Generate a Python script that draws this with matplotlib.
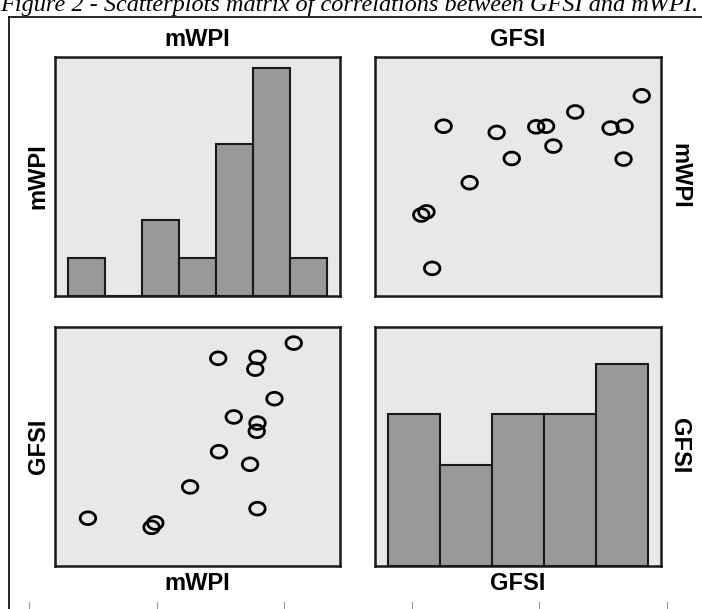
import numpy as np
import matplotlib
matplotlib.use("Agg")
import matplotlib.pyplot as plt
from matplotlib.lines import Line2D
from matplotlib.path import Path

mwpi = [70.5, 60.3, 65.6, 65.3, 67.9, 62.4, 65.6, 65.5, 60.4, 64.6, 56.5, 65.6, 42.7, 51.8, 51.3]
gfsi = [88.8, 85.3, 85.5, 82.8, 76.0, 71.8, 70.4, 68.5, 63.8, 60.9, 55.7, 50.7, 48.5, 47.4, 46.4]
mwpi_bins = np.arange(40, 76, 5)   # 7 bins
gfsi_bins = np.arange(40, 91, 10)  # 5 bins
names = ["mWPI", "GFSI"]
caption = "Figure 2 - Scatterplots matrix of correlations between GFSI and mWPI."

panel_bg = "#e8e8e8"
bar_col = "#999999"
edge = "#1a1a1a"
lab_font = dict(family="Liberation Sans", weight="bold", size=17)

# slightly flattened open circle, like the scanned markers
t = np.linspace(0, 2 * np.pi, 60)
oval = Path(np.column_stack([np.cos(t), 0.82 * np.sin(t)]), closed=True)

fig = plt.figure(figsize=(7.02, 6.09), dpi=100)
W, H = 702, 609

def px_axes(x0, y0, x1, y1):
    return fig.add_axes([x0 / W, 1 - y1 / H, (x1 - x0) / W, (y1 - y0) / H])

def lims(edges):
    lo, hi = edges[0], edges[-1]
    pad = (hi - lo) * 0.05
    return lo - pad, hi + pad

def style(ax):
    ax.set_facecolor(panel_bg)
    ax.set_xticks([])
    ax.set_yticks([])
    for s in ax.spines.values():
        s.set_color(edge)
        s.set_linewidth(1.8)

ax_tl = px_axes(55, 57, 340, 296)
ax_tr = px_axes(375, 57, 661, 296)
ax_bl = px_axes(55, 327, 340, 566)
ax_br = px_axes(375, 327, 661, 566)

# histogram of mWPI
ax_tl.hist(mwpi, bins=mwpi_bins, color=bar_col, edgecolor=edge, linewidth=1.5)
ax_tl.set_xlim(*lims(mwpi_bins))
ax_tl.set_ylim(0, 6.3)

# histogram of GFSI
ax_br.hist(gfsi, bins=gfsi_bins, color=bar_col, edgecolor=edge, linewidth=1.5)
ax_br.set_xlim(*lims(gfsi_bins))
ax_br.set_ylim(0, 4.73)

# scatter GFSI (x) vs mWPI (y)
ax_tr.scatter(gfsi, mwpi, s=125, marker=oval, facecolors="none", edgecolors="black", linewidths=2)
ax_tr.set_xlim(*lims(gfsi_bins))
ax_tr.set_ylim(*lims(mwpi_bins))

# scatter mWPI (x) vs GFSI (y)
ax_bl.scatter(mwpi, gfsi, s=125, marker=oval, facecolors="none", edgecolors="black", linewidths=2)
ax_bl.set_xlim(*lims(mwpi_bins))
ax_bl.set_ylim(*lims(gfsi_bins))

for ax in (ax_tl, ax_tr, ax_bl, ax_br):
    style(ax)

# variable labels around the matrix
fig.text(197 / W, 1 - 40 / H, names[0], ha="center", va="center", **lab_font)
fig.text(518 / W, 1 - 40 / H, names[1], ha="center", va="center", **lab_font)
fig.text(197 / W, 1 - 583 / H, names[0], ha="center", va="center", **lab_font)
fig.text(518 / W, 1 - 583 / H, names[1], ha="center", va="center", **lab_font)
fig.text(38 / W, 1 - 176 / H, names[0], ha="center", va="center", rotation=90, **lab_font)
fig.text(38 / W, 1 - 446 / H, names[1], ha="center", va="center", rotation=90, **lab_font)
fig.text(680 / W, 1 - 176 / H, names[0], ha="center", va="center", rotation=270, **lab_font)
fig.text(680 / W, 1 - 446 / H, names[1], ha="center", va="center", rotation=270, **lab_font)

# caption at the top edge, as in the scanned page
fig.text(0 / W, 1 - 11 / H, caption, ha="left", va="baseline",
         family="Liberation Serif", style="italic", size=17.5)

# frame lines of the surrounding table
fig.add_artist(Line2D([9 / W, 1], [1 - 17 / H, 1 - 17 / H], color="black", lw=1.2))
fig.add_artist(Line2D([9 / W, 9 / W], [0, 1 - 17 / H], color="black", lw=1.2))
for tx in [29, 157, 284, 412, 539, 667]:
    fig.add_artist(Line2D([tx / W, tx / W], [0, 7 / H], color="#999999", lw=0.8))

fig.savefig("out.png", dpi=100)
